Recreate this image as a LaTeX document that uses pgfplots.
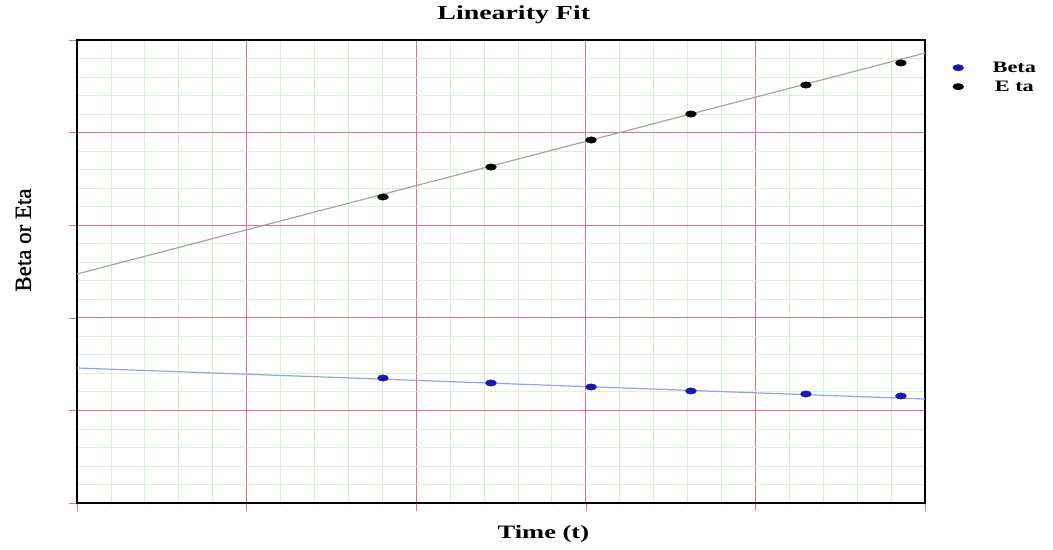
\documentclass[border=0pt]{standalone}
\usepackage{pgfplots}
\pgfplotsset{compat=1.18}
\usepackage{fontspec}
\setmainfont{Liberation Serif}
\newfontfamily\wide[FakeStretch=1.4]{Liberation Serif}
\newfontfamily\ylab[FakeBold=1.2]{Liberation Serif}
\definecolor{majgrid}{RGB}{228,110,135}
\definecolor{mingrid}{RGB}{212,244,212}
\definecolor{betadot}{RGB}{25,25,175}
\definecolor{betaline}{RGB}{150,160,240}
\definecolor{etaline}{RGB}{165,165,165}
\begin{document}
\begin{tikzpicture}
\begin{axis}[
  at={(0,0)}, anchor=south west,
  scale only axis, width=848bp, height=463bp,
  xmin=0, xmax=5, ymin=0, ymax=5,
  xtick={0,1,2,3,4,5}, ytick={0,1,2,3,4,5},
  minor xtick={0.2,0.4,0.6,0.8,1.2,1.4,1.6,1.8,2.2,2.4,2.6,2.8,3.2,3.4,3.6,3.8,4.2,4.4,4.6,4.8},
  minor ytick={0.2,0.4,0.6,0.8,1.2,1.4,1.6,1.8,2.2,2.4,2.6,2.8,3.2,3.4,3.6,3.8,4.2,4.4,4.6,4.8},
  xticklabels={}, yticklabels={},
  grid=both,
  every axis grid/.style={},
  every major grid/.style={draw=majgrid, line width=1.3bp},
  every minor grid/.style={draw=mingrid, line width=0.8bp},
  axis line style={black, line width=1.5bp},
  tick pos=left, tick align=outside,
  major tick length=8bp, minor tick length=2bp,
  major tick style={draw=majgrid, line width=0.6bp},
  minor tick style={draw=mingrid, line width=0.5bp},
  title={Linearity Fit},
  title style={font={\wide\bfseries\fontsize{20}{22}\selectfont}, at={(0.515,1.015)}, anchor=south},
  xlabel={Time (t)},
  xlabel style={font={\wide\bfseries\fontsize{19}{21}\selectfont}, at={(0.55,-0.04)}, anchor=north},
  ylabel={Beta or Eta},
  ylabel style={font={\ylab\fontsize{23}{26}\selectfont}, at={(-0.05,0.568)}, anchor=south},
  legend style={at={(1.029,0.962)}, anchor=north west, draw=none, fill=none,
    font={\wide\bfseries\fontsize{16}{18}\selectfont}, row sep=3bp,
    /tikz/every odd column/.append style={column sep=27bp}},
  legend cell align=center,
]
\addplot[betaline, line width=1.2bp, forget plot] coordinates {(0,1.458) (5,1.123)};
\addplot[etaline, line width=1.2bp, forget plot] coordinates {(0,2.473) (5,4.860)};
\addplot[only marks, mark=*, mark size=3.2bp, betadot, mark options={xscale=1.7, fill=betadot, draw=betadot}]
  coordinates {(1.804,1.350) (2.441,1.296) (3.031,1.253) (3.620,1.210) (4.298,1.177) (4.858,1.156)};
\addlegendentry{Beta}
\addplot[only marks, mark=*, mark size=3.2bp, black, mark options={xscale=1.7, fill=black, draw=black}]
  coordinates {(1.804,3.305) (2.441,3.628) (3.031,3.920) (3.620,4.201) (4.298,4.514) (4.858,4.752)};
\addlegendentry{E ta}
\end{axis}
\pgfresetboundingbox
\useasboundingbox (-77bp,-47bp) rectangle (976bp,503bp);
\end{tikzpicture}
\end{document}
